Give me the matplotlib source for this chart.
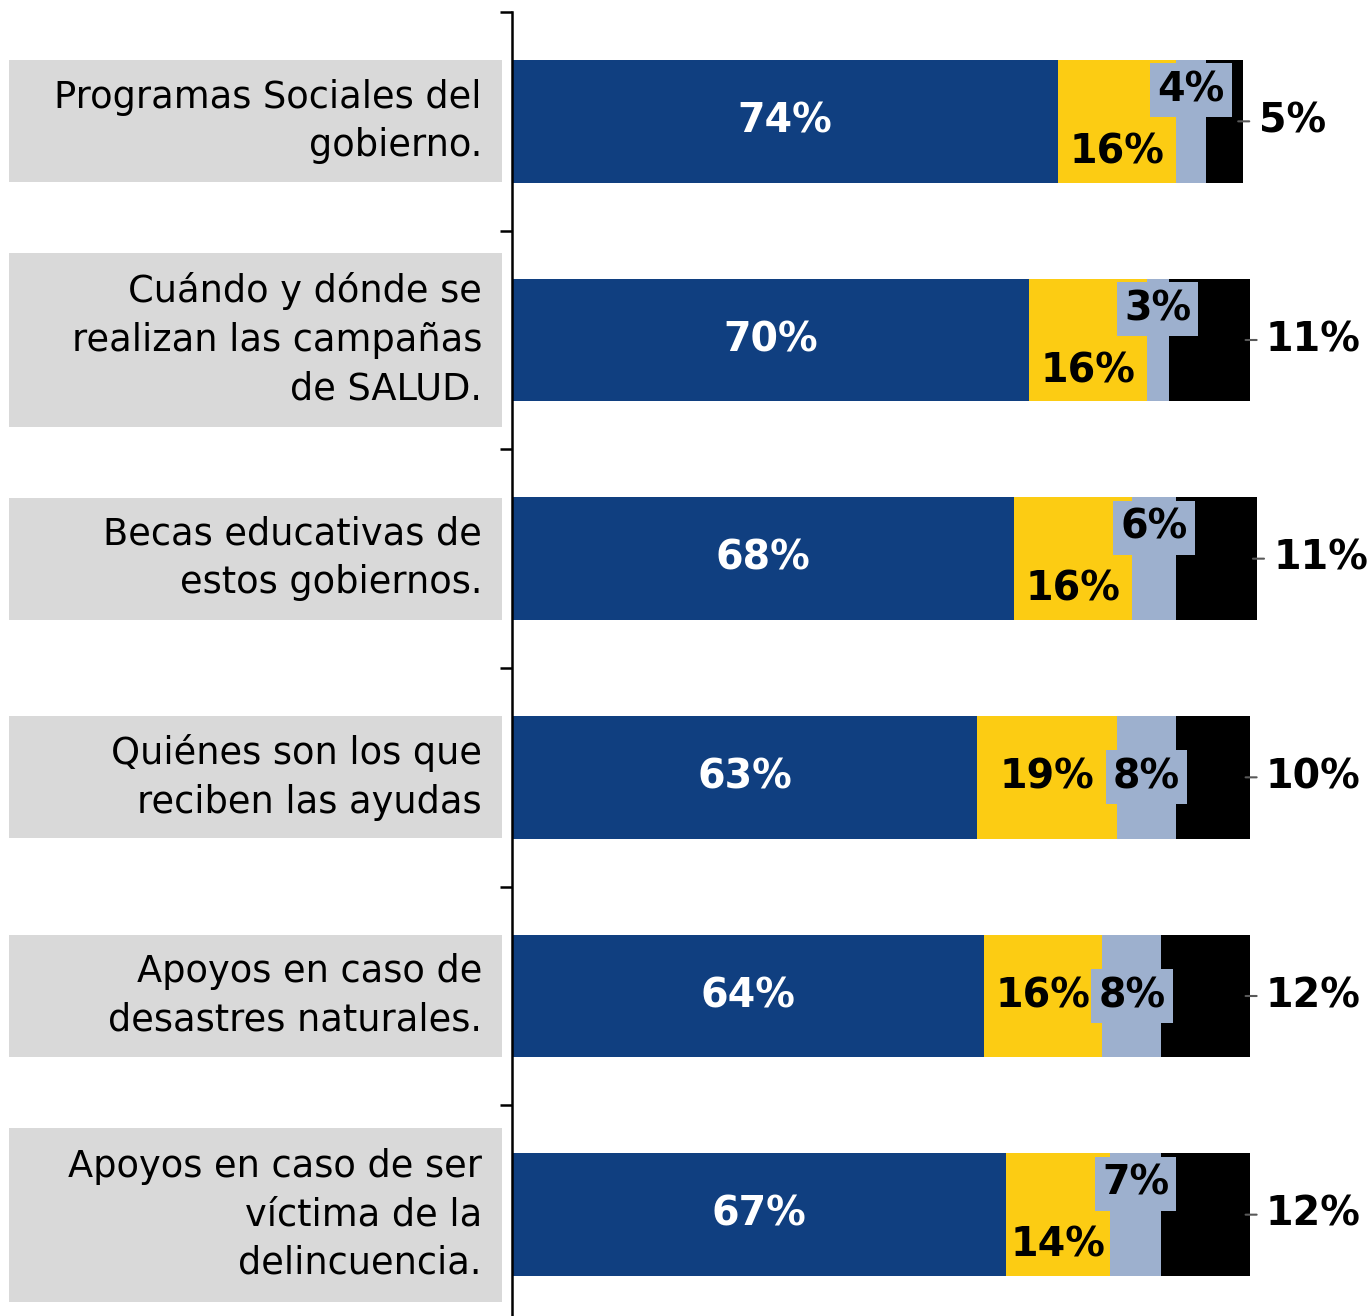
import matplotlib.pyplot as plt
from matplotlib.patches import Rectangle
import matplotlib.transforms as mtransforms

# datos
categorias = [
    "Programas Sociales del\ngobierno.",
    "Cuándo y dónde se\nrealizan las campañas\nde SALUD.",
    "Becas educativas de\nestos gobiernos.",
    "Quiénes son los que\nreciben las ayudas",
    "Apoyos en caso de\ndesastres naturales.",
    "Apoyos en caso de ser\nvíctima de la\ndelincuencia.",
]
serie_1 = [74, 70, 68, 63, 64, 67]
serie_2 = [16, 16, 16, 19, 16, 14]
serie_3 = [4, 3, 6, 8, 8, 7]
serie_4 = [5, 11, 11, 10, 12, 12]

colores = ["#103F80", "#FCCC13", "#9DB0CE", "#000000"]

plt.rcParams["font.family"] = ["DejaVu Sans"]

fig = plt.figure(figsize=(13.71, 13.16), dpi=100)
ax = fig.add_axes([512 / 1371, -8 / 1316, 738 / 1371, 1312 / 1316])

y = list(range(len(categorias)))
alto = 0.56
izq = [0] * len(y)
series = [serie_1, serie_2, serie_3, serie_4]
for serie, color in zip(series, colores):
    ax.barh(y, serie, left=izq, height=alto, color=color, linewidth=0,
            clip_on=False)
    izq = [a + b for a, b in zip(izq, serie)]

fs_num = 28.5
for i in y:
    v1, v2, v3, v4 = serie_1[i], serie_2[i], serie_3[i], serie_4[i]
    # azul
    ax.text(v1 / 2, i, f"{v1}%", color="white", fontsize=fs_num,
            fontweight="bold", ha="center", va="center")
    # escalonar etiquetas si el segmento gris es angosto
    desfase = 31 if v3 <= 7 else 0
    ax.annotate(f"{v2}%", (v1 + v2 / 2, i), xytext=(0, -desfase),
                textcoords="offset pixels", fontsize=fs_num,
                fontweight="bold", ha="center", va="center",
                annotation_clip=False)
    ax.annotate(f"{v3}%", (v1 + v2 + v3 / 2, i), xytext=(0, desfase),
                textcoords="offset pixels", fontsize=fs_num,
                fontweight="bold", ha="center", va="center",
                annotation_clip=False,
                bbox=dict(boxstyle="square,pad=0.18", fc=colores[2], ec="none"))
    fin = v1 + v2 + v3 + v4
    ax.annotate(f"{v4}%", (fin, i), xytext=(16, 0),
                textcoords="offset pixels", fontsize=fs_num,
                fontweight="bold", ha="left", va="center",
                annotation_clip=False)
    ax.annotate("", (fin - 0.6, i), xytext=(fin + 0.9, i),
                annotation_clip=False,
                arrowprops=dict(arrowstyle="-", color="#595959", lw=1.5,
                                shrinkA=0, shrinkB=0))

# etiquetas con caja gris
trans = mtransforms.blended_transform_factory(fig.transFigure, ax.transData)
px_y = 218.6
for i, cat in enumerate(categorias):
    n = cat.count("\n") + 1
    h = (n * 52 + 18) / px_y
    ax.add_patch(Rectangle((9 / 1371, i - h / 2), 493 / 1371, h,
                           transform=trans, facecolor="#D9D9D9",
                           edgecolor="none", clip_on=False))
    ax.text(482 / 1371, i, cat, transform=trans, fontsize=26.5,
            ha="right", va="center", linespacing=1.4)

ax.set_xlim(0, 100)
ax.set_ylim(len(y) - 0.5, -0.5)
ax.set_yticks([k - 0.5 for k in range(len(y) + 1)])
ax.set_yticklabels([])
ax.set_xticks([])
ax.tick_params(axis="y", direction="out", length=9, width=1.8)
for s in ["top", "right", "bottom"]:
    ax.spines[s].set_visible(False)
ax.spines["left"].set_linewidth(1.8)
ax.patch.set_alpha(0)

fig.savefig("out.png", dpi=100)
